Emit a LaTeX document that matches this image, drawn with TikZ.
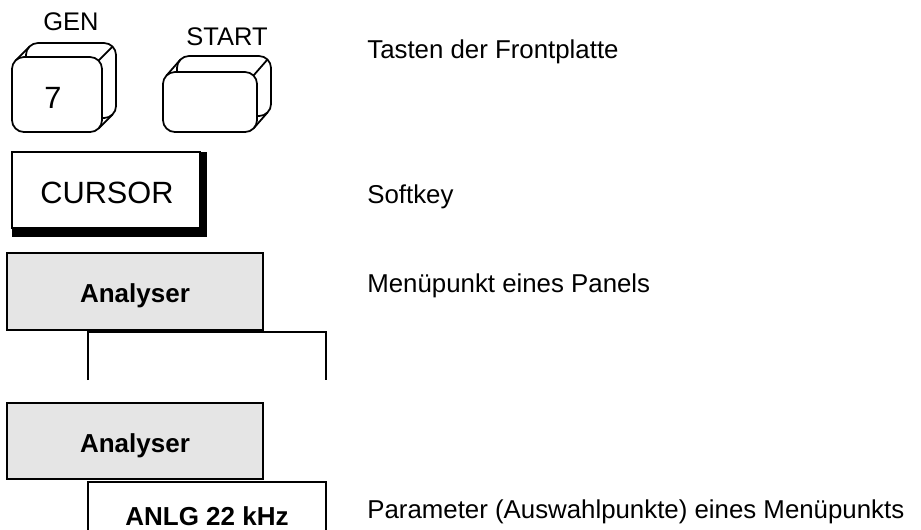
\documentclass[tikz,border=0pt]{standalone}
\usepackage{fontspec}
\setmainfont{Liberation Sans}
\usetikzlibrary{positioning}

\begin{document}
\begin{tikzpicture}[x=0.02cm,y=-0.02cm,keybody/.style={draw,line width=1pt,fill=white,rounded corners=6.8pt},keyrim/.style={line width=1pt},keylabel/.style={font=\fontsize{14.5}{17}\selectfont,inner sep=0pt,anchor=base},keytext/.style={font=\fontsize{17.5}{20}\selectfont,inner sep=0pt,anchor=base},softbox/.style={draw,line width=0.7pt,fill=white},menubox/.style={draw,line width=1.2pt,fill=gray!20},parbox/.style={line width=1.2pt},boldtext/.style={font=\fontsize{14.8}{17}\selectfont\bfseries,inner sep=0pt,anchor=base},note/.style={font=\fontsize{14.7}{17}\selectfont,inner sep=0pt,anchor=base west}]
\useasboundingbox (0,0) rectangle (921,529);
% Tasten der Frontplatte
\draw[keybody] (26,43) rectangle (116,118);
\draw[keyrim] (15.5,60.5) -- (29.5,46.5) (98.5,60.5) -- (112.5,46.5) (98.5,128.5) -- (112.5,114.5);
\draw[keybody] (12,57) rectangle (102,132);
\node[keytext] (gennum) at (53,108) {7};
\node[keylabel] (genlbl) at (71,30) {GEN};
\draw[keybody] (177,56) rectangle (271,116);
\draw[keyrim] (166.5,75.5) -- (180.5,59.5) (253.5,75.5) -- (267.5,59.5) (253.5,128.5) -- (267.5,112.5);
\draw[keybody] (163,72) rectangle (257,132);
\node[keylabel] (startlbl) at (227,45) {START};
% Softkey
\fill (200,152) rectangle (207,237); \fill (12,228) rectangle (207,237);
\draw[softbox] (12,152) rectangle (200,228);
\node[keytext] (cursor) at (107,203) {CURSOR};
% Menuepunkt
\draw[menubox] (7,253) rectangle (263,330);
\node[boldtext] (menu) at (135,302) {Analyser};
\draw[parbox] (88,380) -- (88,332) -- (326,332) -- (326,380);
\draw[menubox] (7,403) rectangle (263,479);
\node[boldtext] (menutwo) at (135,452) {Analyser};
\draw[parbox] (88,535) -- (88,482) -- (326,482) -- (326,535);
\node[boldtext] (param) at (207,525) {ANLG 22 kHz};
% Erklaerungen
\node[note] (txtkeys) at (367,58) {Tasten der Frontplatte};
\node[note] (txtsoft) at (367,203) {Softkey};
\node[note] (txtmenu) at (367,292) {Menüpunkt eines Panels};
\node[note] (txtparam) at (367,518) {Parameter (Auswahlpunkte) eines Menüpunkts};
\end{tikzpicture}
\end{document}
